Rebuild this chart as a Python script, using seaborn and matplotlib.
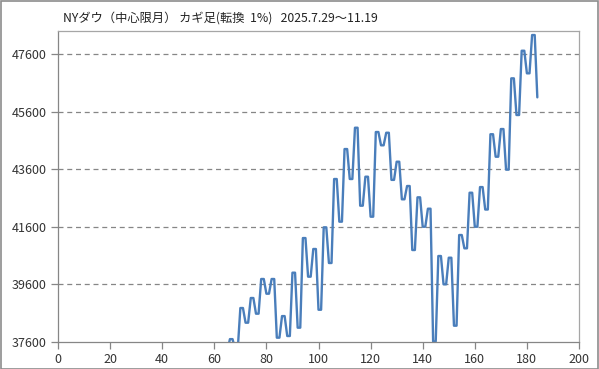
import numpy as np
import pandas as pd
import matplotlib
matplotlib.use("Agg")
import matplotlib.pyplot as plt
import seaborn as sns
from matplotlib.patches import Rectangle

# ---- data (kagi reversal levels) ----
title = "NYダウ（中心限月） カギ足(転換  1%)   2025.7.29～11.19"
start_index = 64          # x index of first listed level (earlier levels lie below the axis)
levels = [37300, 37700, 37350, 38780, 38270, 39128, 38583, 39788, 39277, 39788,
          37750, 38500, 37808, 40007, 38097, 41210, 39868, 40830, 38720, 41582,
          40343, 43260, 41778, 44301, 43260, 45041, 42333, 43340, 41951, 44892,
          44430, 44867, 43230, 43861, 42555, 43017, 40794, 42624, 41603, 42229,
          37620, 40586, 39603, 40527, 38166, 41315, 40853, 42784, 41603, 42980,
          42200, 44815, 44034, 44996, 43585, 46756, 45482, 47715, 46930, 48260,
          46096]
y_ticks = [37600, 39600, 41600, 43600, 45600, 47600]
x_ticks = [0, 20, 40, 60, 80, 100, 120, 140, 160, 180, 200]

# each level is held for two points (shoulder), last level is a single end point
values = np.repeat(levels, 2)[:-1]
xs = start_index + np.arange(len(values))
df = pd.DataFrame({"x": xs, "price": values})

sns.set_theme(style="white")
plt.rcParams["font.family"] = ["Noto Sans CJK JP", "DejaVu Sans"]

W, H = 599, 369
fig = plt.figure(figsize=(W / 100, H / 100), dpi=100)
ax = fig.add_axes([58 / W, 1 - 342 / H, (579 - 58) / W, (342 - 31) / H])

grey = "#868686"
sns.lineplot(data=df, x="x", y="price", ax=ax, estimator=None, sort=False,
             color="#4A7EBB", linewidth=1.7, clip_on=True)
for ln in ax.lines:
    ln.set_solid_joinstyle("round")
    ln.set_solid_capstyle("round")

ax.set_xlim(0, 200)
ax.set_ylim(37600, 48400)
ax.set_xticks(x_ticks)
ax.set_yticks(y_ticks)
ax.set_xticklabels([str(t) for t in x_ticks])
ax.set_yticklabels([str(t) for t in y_ticks])
ax.set_xlabel("")
ax.set_ylabel("")

for t in y_ticks[1:]:
    ax.axhline(t, color=grey, linestyle=(0, (4, 3)), linewidth=0.9, zorder=0)

for side in ["left", "bottom", "top", "right"]:
    ax.spines[side].set_visible(True)
    ax.spines[side].set_linewidth(0.9)
ax.spines["left"].set_color(grey)
ax.spines["bottom"].set_color(grey)
ax.spines["top"].set_color("#a6a6a6")
ax.spines["right"].set_color("#a6a6a6")

ax.tick_params(axis="both", which="both", direction="out", length=5, width=0.9,
               color=grey, labelsize=9, labelcolor="#333333", pad=3,
               left=True, bottom=True)
ax.grid(False)

fig.text(63 / W, 1 - 18 / H, title, ha="left", va="center", fontsize=8.8,
         color="#222222")

fig.patches.append(Rectangle((0.5 / W, 0.5 / H), 1 - 1.5 / W, 1 - 1.5 / H,
                             transform=fig.transFigure, fill=False,
                             edgecolor="#8c8c8c", linewidth=1.2))

fig.savefig("out.png", dpi=100)
